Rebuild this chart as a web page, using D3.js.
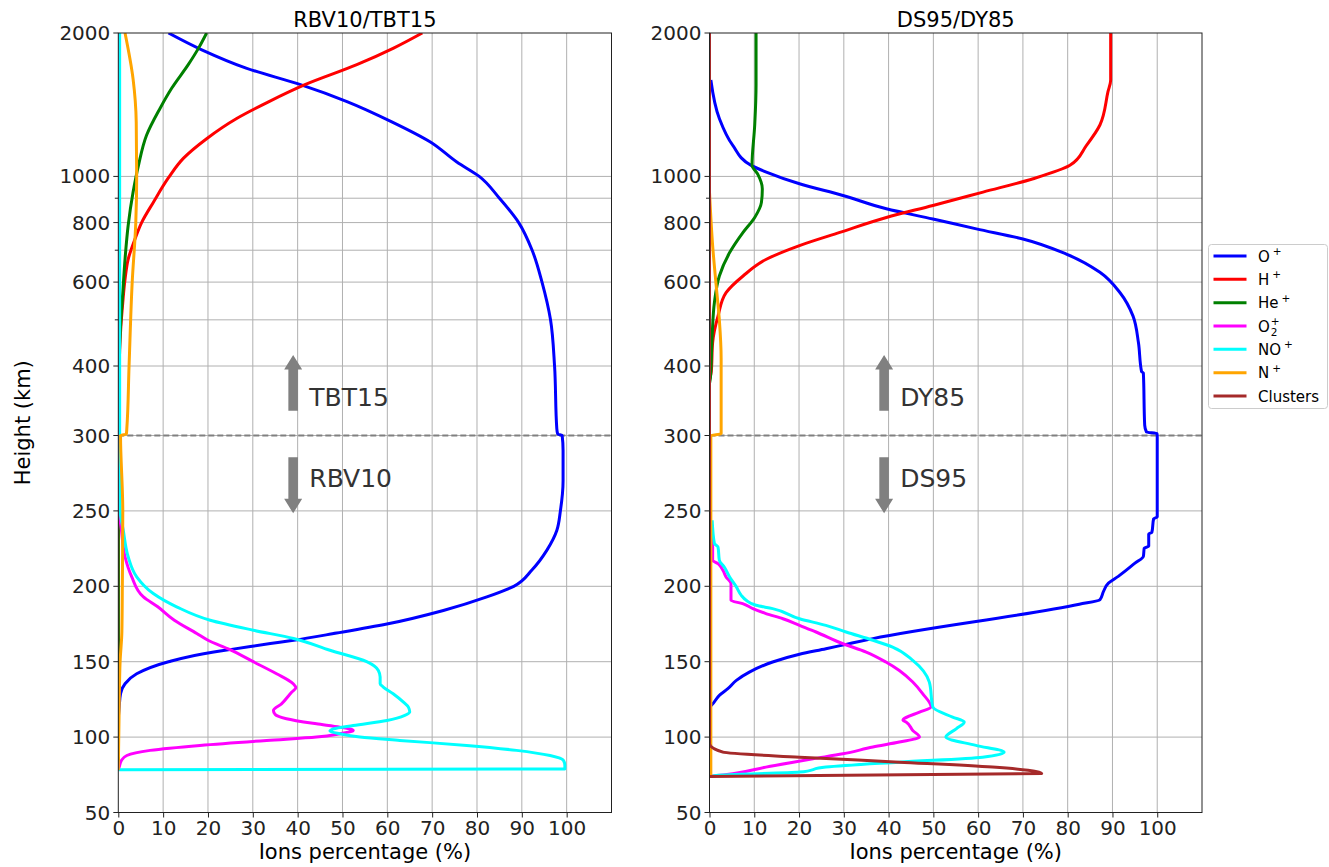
<!DOCTYPE html>
<html><head><meta charset="utf-8">
<script src="https://cdn.jsdelivr.net/npm/d3@7"></script>
<style>body{margin:0;background:#fff}svg{display:block;font-family:"DejaVu Sans",sans-serif}</style>
</head><body><svg id="c" width="1329" height="867"></svg>
<script>
// ---------- data: [height km, ion percentage %] ----------
const rbvO = [[2000,11.2],[1846,18.5],[1688,28.5],[1556,40.8],[1436,51.0],[1302,61.0],[1181,69.6],[1072,75.5],[1000,80.5],[900,85],[800,89.3],[700,92.3],[600,94.5],[500,96.4],[400,97.3],[310,97.8],[302,98],[300,99],[290,99.2],[270,99.2],[250,98.6],[237,97.8],[224,95.6],[211,92.3],[200,88.2],[193,82.2],[184,72.5],[175,59.9],[169,48.7],[164,38.7],[162,33.9],[158,24.9],[156.5,21.3],[150,11.2],[142,4.1],[135.4,1.5],[128.8,0.5],[120,0.2],[111,0],[78,0]];
const rbvH = [[2000,67.8],[1859,61.4],[1716,53.2],[1556,41.5],[1434,33.5],[1323,26.4],[1200,19.7],[1091,14.5],[994,11.2],[882,7.8],[800,5.2],[738,3.7],[670,2.2],[608,1.5],[544,1.0],[471,0.5],[400,0.2],[300,0],[78,0]];
const rbvHe = [[2000,19.7],[1859,17.9],[1716,15.6],[1531,11.9],[1389,9.3],[1220,6.3],[1055,4.5],[927,3.3],[789,2.2],[670,1.5],[570,1.0],[485,0.5],[412,0.2],[300,0],[78,0]];
const rbvO2 = [[2000,0],[250.6,0.2],[237.3,0.7],[219.6,1.5],[206.3,3.0],[193,5.6],[186.4,8.8],[177.5,12.5],[168.7,17.5],[164.2,20],[158,24.9],[150,30.1],[142,35.3],[135.4,39.0],[132.7,39.6],[129.9,38.7],[122.1,36.4],[117.7,34.6],[115,35],[112.2,37.5],[108.8,44.2],[106.6,49.4],[104.4,52.4],[102.2,49.4],[100,44.2],[97.8,33.1],[94.5,18.2],[91.2,7.1],[87.8,1.9],[84.5,0.7],[80.1,0.2],[78.3,0]];
const rbvNO = [[2000,0.3],[300,0.3],[250.6,0.4],[237.3,1.1],[219.6,2.2],[206.3,4.1],[195.2,7.8],[186.4,13.0],[177.5,20.5],[170.9,30.1],[165.4,39.1],[157.6,47.2],[150,55.4],[144.2,58],[139.8,58.4],[135.4,58.4],[133.2,59.1],[128.8,61.3],[123.2,63.6],[119.9,64.7],[116.6,65.0],[114.4,63.9],[111,59.9],[107.7,52.4],[105.5,48],[104,47.2],[102.2,49.4],[100,53.9],[97.8,62.8],[94.5,77.7],[91.2,88.8],[87.8,96.3],[84.5,99.3],[81.2,99.6],[78.9,99.6],[78.3,0]];
const rbvN = [[2000,1.5],[1600,3.3],[1300,4.0],[1000,4.1],[800,3.9],[600,3.1],[400,2.4],[310,1.9],[302,1.8],[300,0.5],[250,1.0],[200,0.9],[170,0.8],[150,0.4],[120,0.2],[100,0.1],[78,0]];

const dsO = [[1594,0.3],[1323,2.2],[1162,5.2],[1055,9.3],[1021,12.7],[965,20.1],[912,29.8],[855,39.5],[814,49.9],[776,59.6],[739,70.0],[687,79.7],[629,87.2],[570,91.7],[509,94.6],[448,95.8],[392,96.5],[390,96.9],[315,97.2],[305,97.6],[303,99.9],[300,100],[246,100],[244.8,99.2],[235.8,98.8],[234.6,98.1],[226.5,98.1],[225.4,97.1],[219.8,96.9],[215.5,95.1],[206.6,91.3],[202.1,89.1],[196.6,88.0],[191.1,87.2],[188.1,82.6],[165.3,36.5],[161.5,30.5],[158.6,26.0],[154.9,20.1],[149.8,14.1],[143.1,8.9],[137.6,6.0],[132.1,4.1],[127.7,2.2],[121,0.4],[120,0],[74,0]];
const dsH = [[2000,89.6],[1594,89.6],[1506,89.0],[1282,87.2],[1162,84.2],[1055,80.5],[989,72.3],[927,61.1],[869,49.9],[820,39.5],[763,29.1],[716,20.1],[670,12.7],[618,7.5],[570,3.7],[509,1.9],[448,0.7],[392,0.4],[380,0]];
const dsHe = [[2000,10.4],[1556,10.4],[1282,10.1],[1055,9.5],[1010,10.8],[941,11.8],[882,11.6],[820,10.1],[763,7.5],[692,4.5],[618,2.2],[544,1.1],[465,0.6],[383,0.2],[375,0]];
const dsO2 = [[236,0.4],[226.1,0.7],[217.3,0.7],[215,1.9],[210.6,3.0],[206.2,3.7],[201.8,4.8],[190.7,4.8],[188.5,7.4],[185.2,9.7],[181.9,12.6],[178.5,16.4],[174.1,20.1],[169.7,23.8],[161.9,29.8],[156.4,35.0],[149.8,39.4],[144.2,42.4],[136.5,45.4],[128.8,47.6],[119.9,49.5],[116.6,46.9],[111.1,43.2],[110,43.9],[104.4,45.4],[100,46.9],[96.7,42.4],[93.4,36.5],[88.9,29.8],[85.6,23.1],[80.1,12.6],[75.7,5.2],[73.9,0]];
const dsNO = [[243.8,0.6],[228.3,1.1],[226.1,1.9],[217.3,2.2],[212.8,3.3],[206.2,4.5],[199.6,6.0],[194,7.1],[190.7,8.2],[187.4,10.4],[185.2,14.1],[178.5,20.1],[174.1,26.0],[169.7,30.5],[164.2,36.5],[159.7,40.9],[150.9,45.4],[136.5,49.1],[119.9,49.9],[113.3,54.3],[110,56.9],[105.5,55.1],[100,52.8],[94.5,59.5],[90,65.8],[86.7,61.0],[83.4,42.4],[80.1,26.0],[76.8,20.1],[74.6,1.5],[73.9,0]];
const dsN = [[927,0],[716,0.7],[589,1.5],[500,2.2],[415,2.6],[302.4,2.6],[300,0.3],[74,0.3]];
const dsCl = [[2000,0],[95.6,0],[90,3.0],[86.7,20.1],[83.4,42.4],[80.1,63.2],[75.9,74.2],[73.9,0]];

const seriesNames = ["O+","H+","He+","O2+","NO+","N+","Clusters"];
const seriesColors = ["#0000ff","#ff0000","#008000","#ff00ff","#00ffff","#ffa500","#a52a2a"];
const panelTitles = ["RBV10/TBT15","DS95/DY85"];
const panelSeries = [[rbvO,rbvH,rbvHe,rbvO2,rbvNO,rbvN,null],[dsO,dsH,dsHe,dsO2,dsNO,dsN,dsCl]];
const upperLabels = ["TBT15","DY85"];
const lowerLabels = ["RBV10","DS95"];
const xTicks = [0,10,20,30,40,50,60,70,80,90,100];
const yMajorTicks = [50,100,150,200,250,300,400,600,800,1000,2000];
const yMinorTicks = [500,700,900];

// ---------- layout ----------
const svg = d3.select("#c");
const plotTop = 33, plotBottom = 812.5, y300 = 435.5, y400 = 366;
const panelX = [[118.3,611.5],[709.5,1202]];
const yLin = d3.scaleLinear().domain([50,300]).range([plotBottom,y300]);
const yMid = d3.scaleLinear().domain([300,400]).range([y300,y400]);
const yLog = d3.scaleLog().domain([400,2000]).range([y400,plotTop]);
const y = h => h<=300 ? yLin(h) : (h<=400 ? yMid(h) : yLog(h));

panelX.forEach((pr,pi)=>{
  const x = d3.scaleLinear().domain([0,110]).range(pr);
  const g = svg.append("g");
  const id = "clip"+pi;
  svg.append("clipPath").attr("id",id).append("rect")
    .attr("x",pr[0]).attr("y",plotTop).attr("width",pr[1]-pr[0]).attr("height",plotBottom-plotTop);
  // grid
  g.selectAll(".vg").data(xTicks.slice(1)).join("line")
    .attr("x1",d=>x(d)).attr("x2",d=>x(d)).attr("y1",plotTop).attr("y2",plotBottom)
    .attr("stroke","#b0b0b0").attr("stroke-width",1);
  g.selectAll(".hg").data(yMajorTicks.concat(yMinorTicks).filter(d=>d>50&&d<2000)).join("line")
    .attr("x1",pr[0]).attr("x2",pr[1]).attr("y1",d=>y(d)).attr("y2",d=>y(d))
    .attr("stroke","#b0b0b0").attr("stroke-width",1);
  // dashed 300 line
  g.append("line").attr("x1",pr[0]).attr("x2",pr[1]).attr("y1",y(300)).attr("y2",y(300))
    .attr("stroke","#808080").attr("stroke-width",2).attr("stroke-dasharray","6,3");
  // curves
  const line = d3.line().curve(d3.curveMonotoneY).x(d=>x(d[1])).y(d=>y(d[0]));
  const lg = g.append("g").attr("clip-path",`url(#${id})`);
  panelSeries[pi].forEach((s,si)=>{
    if(!s) return;
    lg.append("path").attr("d",line(s)).attr("fill","none")
      .attr("stroke",seriesColors[si]).attr("stroke-width",3).attr("stroke-linejoin","round");
  });
  // arrows & labels
  const ax = x(39), aw = 4.8, hw = 9, hl = 14.5;
  const upTail = y(335.7), upTip = y(421.6);
  g.append("path").attr("fill","#808080").attr("d",
    `M${ax-aw},${upTail}L${ax-aw},${upTip+hl}L${ax-hw},${upTip+hl}L${ax},${upTip}L${ax+hw},${upTip+hl}L${ax+aw},${upTip+hl}L${ax+aw},${upTail}Z`);
  const dnTail = y(285.5), dnTip = y(248.4);
  g.append("path").attr("fill","#808080").attr("d",
    `M${ax-aw},${dnTail}L${ax-aw},${dnTip-hl}L${ax-hw},${dnTip-hl}L${ax},${dnTip}L${ax+hw},${dnTip-hl}L${ax+aw},${dnTip-hl}L${ax+aw},${dnTail}Z`);
  g.append("text").attr("x",x(42.6)).attr("y",y(342.9)).attr("font-size",25).attr("fill","#333").text(upperLabels[pi]);
  g.append("text").attr("x",x(42.6)).attr("y",y(265.6)).attr("font-size",25).attr("fill","#333").text(lowerLabels[pi]);
  // frame
  g.append("rect").attr("x",pr[0]).attr("y",plotTop).attr("width",pr[1]-pr[0]).attr("height",plotBottom-plotTop)
    .attr("fill","none").attr("stroke","#222").attr("stroke-width",1);
  // x axis
  const xa = g.append("g").attr("transform",`translate(0,${plotBottom})`)
    .call(d3.axisBottom(x).tickValues(xTicks).tickSize(5).tickPadding(3.5));
  xa.select(".domain").remove();
  xa.selectAll("text").attr("font-size",20).attr("font-family","DejaVu Sans").attr("fill","#222");
  xa.selectAll("line").attr("stroke","#222");
  // y ticks
  const yt = g.append("g");
  yt.selectAll("line.maj").data(yMajorTicks).join("line")
    .attr("x1",pr[0]-5).attr("x2",pr[0]).attr("y1",d=>y(d)).attr("y2",d=>y(d)).attr("stroke","#222");
  yt.selectAll("line.min").data(yMinorTicks).join("line").attr("class","min")
    .attr("x1",pr[0]-3.5).attr("x2",pr[0]).attr("y1",d=>y(d)).attr("y2",d=>y(d)).attr("stroke","#222");
  yt.selectAll("text").data(yMajorTicks).join("text")
    .attr("x",pr[0]-8).attr("y",d=>y(d)).attr("dy","0.35em").attr("text-anchor","end")
    .attr("font-size",20).attr("fill","#222").text(d=>d);
  // title, x label
  g.append("text").attr("x",(pr[0]+pr[1])/2).attr("y",26.5).attr("text-anchor","middle")
    .attr("font-size",21).attr("fill","#000").text(panelTitles[pi]);
  g.append("text").attr("x",(pr[0]+pr[1])/2).attr("y",859).attr("text-anchor","middle")
    .attr("font-size",21).attr("fill","#000").text("Ions percentage (%)");
});
svg.append("text").attr("transform",`translate(30,${(plotTop+plotBottom)/2}) rotate(-90)`)
  .attr("text-anchor","middle").attr("font-size",21).attr("fill","#000").text("Height (km)");

// ---------- legend ----------
const lg = svg.append("g");
lg.append("rect").attr("x",1208.5).attr("y",244.5).attr("width",119).attr("height",164).attr("rx",3)
  .attr("fill","#fff").attr("stroke","#cccccc");
const legY = d3.scaleLinear().domain([0,6]).range([256,396]);
seriesNames.forEach((n,i)=>{
  lg.append("line").attr("x1",1213.5).attr("x2",1246.5).attr("y1",legY(i)).attr("y2",legY(i))
    .attr("stroke",seriesColors[i]).attr("stroke-width",3);
  const t = lg.append("text").attr("x",1258).attr("y",legY(i)+5.5).attr("font-size",15).attr("fill","#000");
  if(n==="Clusters"){ t.text(n); return; }
  const base = n.replace("+","").replace("2","");
  t.append("tspan").text(base);
  if(n==="O2+"){
    t.append("tspan").attr("font-size",10.5).attr("dx",1).attr("dy",4).text("2");
    t.append("tspan").attr("font-size",10.5).attr("dx",-6.7).attr("dy",-10.5).text("+");
  } else {
    t.append("tspan").attr("font-size",10.5).attr("dx",3).attr("dy",-6.5).text("+");
  }
});
</script></body></html>
